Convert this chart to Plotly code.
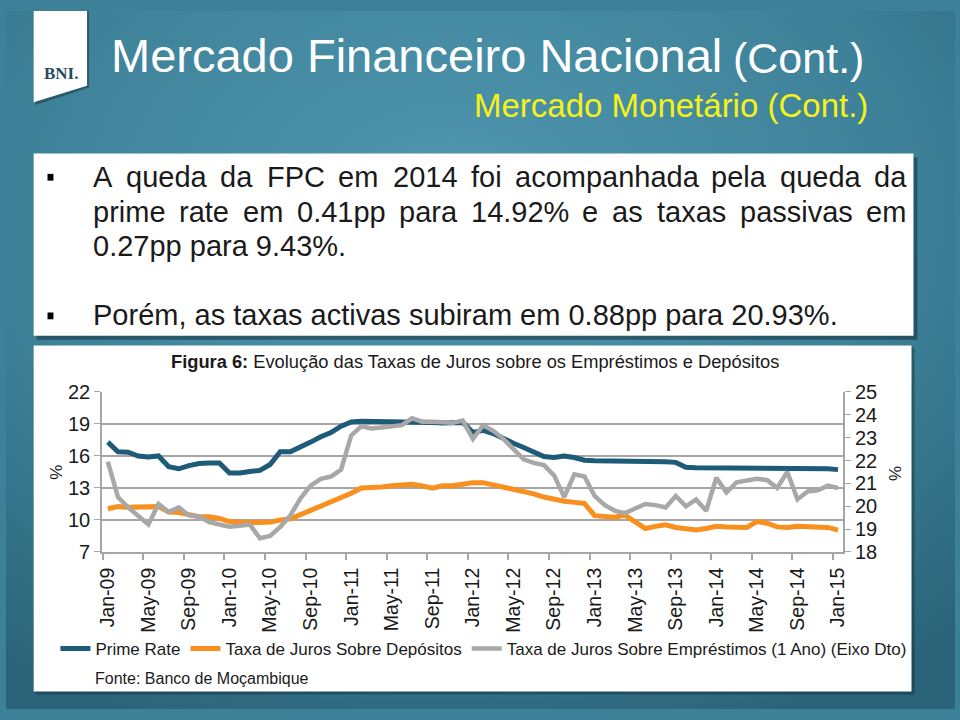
import base64
import subprocess
import pandas as pd
import plotly.graph_objects as go

# ---------------- data ----------------
months = [d.strftime("%b-%y") for d in pd.date_range("2009-01-01", "2015-01-01", freq="MS")]

prime_rate = [17.3, 16.4, 16.35, 16.0, 15.9, 16.0, 15.0, 14.8, 15.1, 15.3, 15.35, 15.35,
              14.4, 14.4, 14.55, 14.65, 15.2, 16.4, 16.4, 16.8, 17.3, 17.8, 18.2, 18.8,
              19.2, 19.25, 19.25, 19.25, 19.25, 19.25, 19.2, 19.15, 19.15, 19.1, 19.15, 19.15,
              18.2, 18.4, 18.1, 17.6, 17.2, 16.8, 16.35, 15.95, 15.85, 16.0, 15.85, 15.6,
              15.55, 15.55, 15.5, 15.5, 15.5, 15.45, 15.45, 15.45, 15.4, 14.95, 14.9, 14.9,
              14.9, 14.9, 14.9, 14.9, 14.9, 14.9, 14.9, 14.9, 14.9, 14.9, 14.9, 14.8,
              14.72]

deposit_rate = [11.05, 11.25, 11.2, 11.25, 11.25, 11.25, 10.75, 10.7, 10.5, 10.3, 10.3, 10.15,
                9.85, 9.75, 9.75, 9.75, 9.8, 10.0, 10.1, 10.5, 10.9, 11.2, 11.6, 12.0,
                12.5, 13.0, 13.0, 13.1, 13.2, 13.3, 13.35, 13.2, 12.97, 13.2, 13.2, 13.35,
                13.5, 13.5, 13.3, 13.1, 12.95, 12.7, 12.45, 12.15, 11.9, 11.75, 11.65, 11.55,
                10.4, 10.3, 10.25, 10.45, 9.85, 9.2, 9.4, 9.55, 9.3, 9.2, 9.05, 9.2,
                9.4, 9.35, 9.3, 9.3, 9.85, 9.7, 9.35, 9.3, 9.4, 9.4, 9.4, 9.3,
                9.05]

loan_rate = [21.95, 20.4, 19.95, 19.6, 19.2, 20.1, 19.75, 19.95, 19.6, 19.55, 19.3, 19.2,
             19.1, 19.15, 19.2, 18.6, 18.7, 19.1, 19.6, 20.35, 20.9, 21.2, 21.3, 21.6,
             23.1, 23.5, 23.4, 23.45, 23.5, 23.55, 23.85, 23.7, 23.7, 23.68, 23.65, 23.75,
             22.95, 23.55, 23.3, 22.95, 22.5, 22.05, 21.9, 21.8, 21.35, 20.4, 21.4, 21.3,
             20.45, 20.05, 19.8, 19.7, 19.9, 20.1, 20.05, 19.95, 20.45, 20.0, 20.3, 19.8,
             21.25, 20.6, 21.05, 21.15, 21.2, 21.15, 20.8, 21.5, 20.3, 20.65, 20.7, 20.9,
             20.8]

left_ticks = [7, 10, 13, 16, 19, 22]
right_ticks = [18, 19, 20, 21, 22, 23, 24, 25]
label_step = 4

series_names = ["Prime Rate", "Taxa de Juros Sobre Depósitos",
                "Taxa de Juros Sobre Empréstimos (1 Ano) (Eixo Dto)"]

bullet_lines = ["A queda da FPC em 2014 foi acompanhada pela queda da",
                "prime rate em 0.41pp para 14.92% e as taxas passivas em",
                "0.27pp para 9.43%.",
                "Porém, as taxas activas subiram em 0.88pp para 20.93%."]

# ---------------- helpers ----------------
W, H = 960, 720
def px(x):
    return x / W
def py(y):
    return 1 - y / H

def has_font(name):
    try:
        out = subprocess.run(["fc-list", ":", "family"], capture_output=True, text=True, timeout=10).stdout
        return name in out
    except Exception:
        return False

FONT = "Liberation Sans, Arial, sans-serif"
if has_font("Liberation Sans Narrow"):
    BODY_FONT, BODY_SIZE, BODY_FACTOR = "Liberation Sans Narrow", 34, 0.82
else:
    BODY_FONT, BODY_SIZE, BODY_FACTOR = "Liberation Sans", 29, 1.0

# Arial advance widths (per 1000 em)
AW = {" ": 278, "A": 667, "C": 722, "F": 611, "P": 667, "a": 556, "b": 556, "c": 500, "d": 556,
      "e": 556, "é": 556, "f": 278, "h": 556, "i": 222, "l": 222, "m": 833, "n": 556, "o": 556,
      "p": 556, "q": 556, "r": 333, "s": 500, "t": 278, "u": 556, "v": 500, "x": 500,
      ".": 278, ",": 278, "%": 889}
def word_width(w):
    return sum(AW.get(c, 556) for c in w) / 1000 * BODY_SIZE * BODY_FACTOR

DARK = "#1a1a1a"
C_PRIME = "#1d5b79"
C_DEP = "#f7901e"
C_LOAN = "#a8a8a8"
GRID = "#a6a6a6"

idx = list(range(len(months)))

fig = go.Figure()
fig.add_trace(go.Scatter(x=idx, y=prime_rate, name=series_names[0], mode="lines",
                         line=dict(color=C_PRIME, width=5), yaxis="y"))
fig.add_trace(go.Scatter(x=idx, y=deposit_rate, name=series_names[1], mode="lines",
                         line=dict(color=C_DEP, width=5), yaxis="y"))
fig.add_trace(go.Scatter(x=idx, y=loan_rate, name=series_names[2], mode="lines",
                         line=dict(color=C_LOAN, width=4.5), yaxis="y2"))

tick_idx = list(range(0, len(months), label_step))

# background gradient
svg = ('<svg xmlns="http://www.w3.org/2000/svg" width="960" height="720">'
       '<defs><radialGradient id="g" cx="0.47" cy="0.28" r="0.8">'
       '<stop offset="0" stop-color="#4f97af"/><stop offset="0.6" stop-color="#3d8198"/>'
       '<stop offset="1" stop-color="#2b6479"/></radialGradient></defs>'
       '<rect width="960" height="720" fill="url(#g)"/></svg>')
bg_src = "data:image/svg+xml;base64," + base64.b64encode(svg.encode()).decode()

shapes = []
shapes.append(dict(type="rect", xref="paper", yref="paper", x0=px(31), x1=px(922), y0=py(151), y1=py(339),
                   fillcolor="rgba(10,30,40,0.45)", line=dict(width=0), layer="below"))
shapes.append(dict(type="rect", xref="paper", yref="paper", x0=px(28), x1=px(918), y0=py(147), y1=py(335),
                   fillcolor="white", line=dict(width=0), layer="below"))
shapes.append(dict(type="rect", xref="paper", yref="paper", x0=px(30), x1=px(919), y0=py(347), y1=py(705),
                   fillcolor="rgba(10,30,40,0.35)", line=dict(width=0), layer="below"))
shapes.append(dict(type="rect", xref="paper", yref="paper", x0=px(28), x1=px(916), y0=py(345), y1=py(702),
                   fillcolor="white", line=dict(width=0), layer="below"))
shapes.append(dict(type="path", xref="paper", yref="paper",
                   path=f"M {px(30)},{py(0)} L {px(84)},{py(0)} L {px(84)},{py(79)} L {px(30)},{py(97)} Z",
                   fillcolor="rgba(10,30,40,0.4)", line=dict(width=0), layer="below"))
shapes.append(dict(type="path", xref="paper", yref="paper",
                   path=f"M {px(28)},{py(0)} L {px(82)},{py(0)} L {px(82)},{py(77)} L {px(28)},{py(94)} Z",
                   fillcolor="white", line=dict(width=0), layer="below"))
for yb in (172, 315):
    shapes.append(dict(type="rect", xref="paper", yref="paper", x0=px(42), x1=px(48), y0=py(yb - 4), y1=py(yb + 3),
                       fillcolor="black", line=dict(width=0)))

ann = []
def text(x, y, s, size, color=DARK, xanchor="left", yanchor="middle", family=FONT, angle=0):
    ann.append(dict(x=px(x), y=py(y), xref="paper", yref="paper", text=s, showarrow=False,
                    xanchor=xanchor, yanchor=yanchor, textangle=angle,
                    font=dict(size=size, color=color, family=family)))

# header
text(56, 64, "<b>BNI.</b>", 17, color="#1e4d63", xanchor="center", family="Liberation Serif, DejaVu Serif, serif")
text(104, 46, "Mercado Financeiro Nacional", 47, color="white")
text(733, 48, "(Cont.)", 43, color="white")
text(874, 97, "Mercado Monetário (Cont.)", 33, color="#f4f21a", xanchor="right")

# bullet text: first two lines justified between x=88 and x=910
LEFT, RIGHT = 88, 910
line_y = [171, 207, 242, 314]
for k, line in enumerate(bullet_lines):
    if k < 2:
        words = line.split(" ")
        widths = [word_width(w) for w in words]
        gap = (RIGHT - LEFT - sum(widths)) / (len(words) - 1)
        x = LEFT
        for w, wd in zip(words, widths):
            text(x - 2, line_y[k], w, BODY_SIZE, family=BODY_FONT)
            x += wd + gap
    else:
        text(LEFT - 2, line_y[k], line, BODY_SIZE, family=BODY_FONT)

# chart title, axis labels, source
text(165, 362, "<b>Figura 6:</b> Evolução das Taxas de Juros sobre os Empréstimos e Depósitos", 18.3)
text(51, 476, "%", 17, xanchor="center", angle=-90)
text(900, 477, "%", 17, xanchor="center", angle=-90)
text(88, 689, "Fonte: Banco de Moçambique", 16)

fig.update_layout(
    width=W, height=H,
    margin=dict(l=0, r=0, t=0, b=0),
    paper_bgcolor="#3d8198",
    plot_bgcolor="rgba(0,0,0,0)",
    images=[dict(source=bg_src, xref="paper", yref="paper", x=0, y=1, sizex=1, sizey=1,
                 xanchor="left", yanchor="top", sizing="stretch", layer="below")],
    shapes=shapes,
    annotations=ann,
    showlegend=True,
    legend=dict(orientation="h", x=px(50), y=py(658), xanchor="left", yanchor="middle",
                bgcolor="rgba(0,0,0,0)", font=dict(size=17, color=DARK, family=FONT),
                itemwidth=30, tracegroupgap=0),
    xaxis=dict(domain=[px(97.3), px(846.7)], range=[-0.556, 72.49],
               tickmode="array", tickvals=tick_idx, ticktext=[months[i] for i in tick_idx],
               tickangle=-90, ticks="", tickfont=dict(size=19.5, color=DARK, family=FONT),
               ticklabelstandoff=6,
               showgrid=False, zeroline=False, showline=True, linecolor=GRID, linewidth=2,
               minor=dict(tickmode="array", tickvals=[i - 0.5 for i in tick_idx], ticks="outside",
                          ticklen=6, tickwidth=1.5, tickcolor=GRID, showgrid=False)),
    yaxis=dict(domain=[py(558), py(393)], range=[7, 22], tickmode="array", tickvals=left_ticks,
               showgrid=True, gridcolor=GRID, gridwidth=2, zeroline=False,
               showline=True, linecolor=GRID, linewidth=2, ticks="outside", ticklen=6, tickcolor=GRID,
               tickfont=dict(size=20, color=DARK, family=FONT)),
    yaxis2=dict(overlaying="y", side="right", anchor="x", range=[18, 25], tickmode="array", tickvals=right_ticks,
                showgrid=False, zeroline=False, showline=True, linecolor=GRID, linewidth=2,
                ticks="outside", ticklen=6, tickcolor=GRID,
                tickfont=dict(size=20, color=DARK, family=FONT)),
)

fig.write_html("out.html")
